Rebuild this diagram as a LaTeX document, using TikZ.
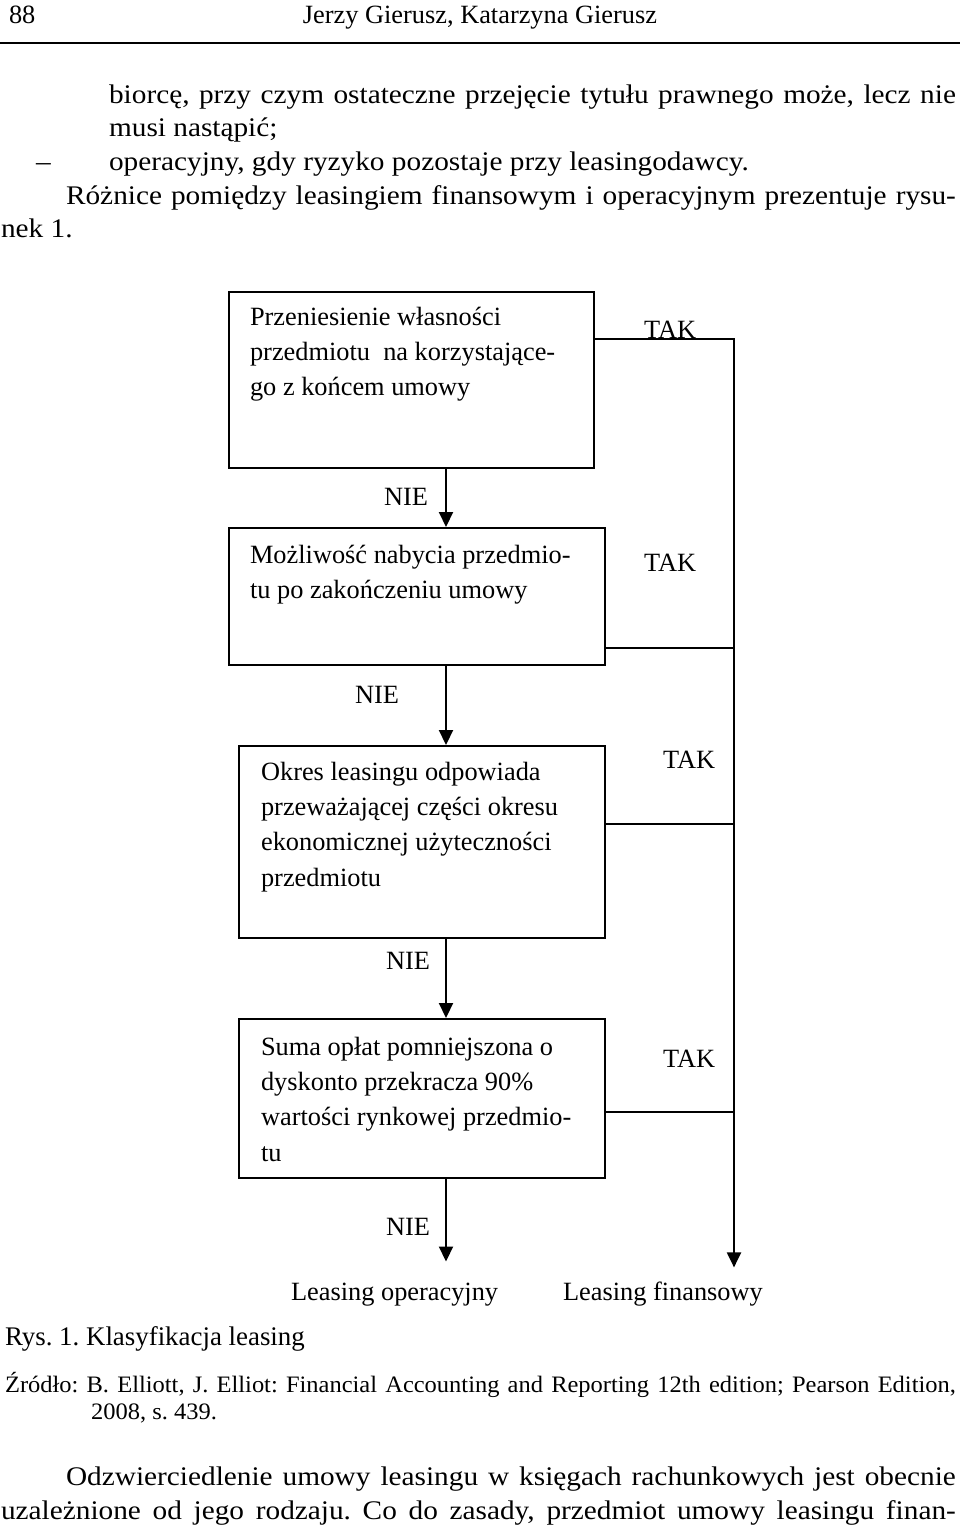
\documentclass[tikz,border=0pt]{standalone}
\usepackage{fontspec}
\setmainfont{Liberation Serif}
\newfontfamily\bodyfont[FakeStretch=1.09]{Liberation Serif}
\newfontfamily\sourcefont[FakeStretch=1.04]{Liberation Serif}
\frenchspacing
\usetikzlibrary{arrows.meta}

\begin{document}
\begin{tikzpicture}[
        x=0.02cm, y=-0.02cm,
        line width=1.2pt,
        arrow/.style={-{Triangle[length=0.3cm,width=0.28cm]}}
    ]
    %\usetikzlibrary{arrows.meta}

    \tikzstyle{decision} = [
        draw,
        rectangle,
        anchor = north west,
        inner sep = 0pt
    ]
    \tikzstyle{boxtext} = [
        anchor = base west,
        inner sep = 0pt,
        font = \fontsize{15pt}{20.2pt}\selectfont
    ]
    \tikzstyle{answer} = [
        anchor = base west,
        inner sep = 0pt,
        font = \fontsize{15pt}{18pt}\selectfont
    ]
    \tikzstyle{body} = [
        anchor = base west,
        inner sep = 0pt,
        font = \bodyfont\fontsize{15.3pt}{19pt}\selectfont
    ]
    \tikzstyle{source} = [
        anchor = base west,
        inner sep = 0pt,
        font = \sourcefont\fontsize{13.4pt}{16pt}\selectfont
    ]

    \useasboundingbox (0,0) rectangle (960,1528);

    \node [answer] (page) at (8,23) {88};
    \node [answer, anchor=base] (authors) at (480,23) {Jerzy Gierusz, Katarzyna Gierusz};
    \draw [line width=1.6pt] (0,43) -- (960,43);

    \node [body] (line1) at (108,103) {\makebox[16.94cm][s]{biorcę, przy czym ostateczne przejęcie tytułu prawnego może, lecz nie}};
    \node [body] (line2) at (108,136) {musi nastąpić;};
    \node [body] (dash) at (35,170) {–};
    \node [body] (line3) at (108,170) {operacyjny, gdy ryzyko pozostaje przy leasingodawcy.};
    \node [body] (line4) at (65,204) {\makebox[17.8cm][s]{Różnice pomiędzy leasingiem finansowym i operacyjnym prezentuje rysu-}};
    \node [body] (line5) at (0,237) {nek 1.};

    \node [decision, minimum width=7.3cm, minimum height=3.52cm] (b1) at (228,291) {};
    \node [decision, minimum width=7.52cm, minimum height=2.74cm] (b2) at (228,527) {};
    \node [decision, minimum width=7.32cm, minimum height=3.84cm] (b3) at (238,745) {};
    \node [decision, minimum width=7.32cm, minimum height=3.18cm] (b4) at (238,1018) {};

    \node [boxtext] (b1text) at (249,325) {\parbox[t]{7cm}{Przeniesienie własności\\przedmiotu\ \ na korzystające-\\go z końcem umowy}};
    \node [boxtext] (b2text) at (249,563) {\parbox[t]{7cm}{Możliwość nabycia przedmio-\\tu po zakończeniu umowy}};
    \node [boxtext] (b3text) at (260,780) {\parbox[t]{7cm}{Okres leasingu odpowiada\\przeważającej części okresu\\ekonomicznej użyteczności\\przedmiotu}};
    \node [boxtext] (b4text) at (260,1055) {\parbox[t]{7cm}{Suma opłat pomniejszona o\\dyskonto przekracza 90\%\\wartości rynkowej przedmio-\\tu}};

    \node [answer] (nie1) at (383,505) {NIE};
    \node [answer] (nie2) at (354,703) {NIE};
    \node [answer] (nie3) at (385,969) {NIE};
    \node [answer] (nie4) at (385,1235) {NIE};
    \node [answer] (tak1) at (643,338) {TAK};
    \node [answer] (tak2) at (643,571) {TAK};
    \node [answer] (tak3) at (662,768) {TAK};
    \node [answer] (tak4) at (662,1067) {TAK};

    \node [answer] (operacyjny) at (290,1300) {Leasing operacyjny};
    \node [answer] (finansowy) at (562,1300) {Leasing finansowy};

    \coordinate (axis) at (446,0);
    \coordinate (r1) at (734,339);
    \coordinate (r2) at (734,648);
    \coordinate (r3) at (734,824);
    \coordinate (r4) at (734,1112);

    \draw [arrow] (b1.south -| axis) -- (b2.north -| axis);
    \draw [arrow] (b2.south -| axis) -- (b3.north -| axis);
    \draw [arrow] (b3.south -| axis) -- (b4.north -| axis);
    \draw [arrow, shorten >=0.4cm] (b4.south -| axis) -- (operacyjny.north -| axis);

    \draw [arrow, shorten >=0.26cm] (b1.east |- r1) -- (r1) -- (finansowy.north -| r1);
    \draw (b2.east |- r2) -- (r2);
    \draw (b3.east |- r3) -- (r3);
    \draw (b4.east |- r4) -- (r4);

    \node [answer, font=\fontsize{15.3pt}{18pt}\selectfont] (caption) at (4,1345) {Rys. 1. Klasyfikacja leasing};
    \node [source] (src1) at (4,1392) {\makebox[19.02cm][s]{Źródło: B. Elliott, J. Elliot: Financial Accounting and Reporting 12th edition; Pearson Edition,}};
    \node [source] (src2) at (90,1419) {2008, s. 439.};

    \node [body] (line6) at (65,1485) {\makebox[17.8cm][s]{Odzwierciedlenie umowy leasingu w księgach rachunkowych jest obecnie}};
    \node [body] (line7) at (0,1519) {\makebox[19.1cm][s]{uzależnione od jego rodzaju. Co do zasady, przedmiot umowy leasingu finan-}};
\end{tikzpicture}
\end{document}
